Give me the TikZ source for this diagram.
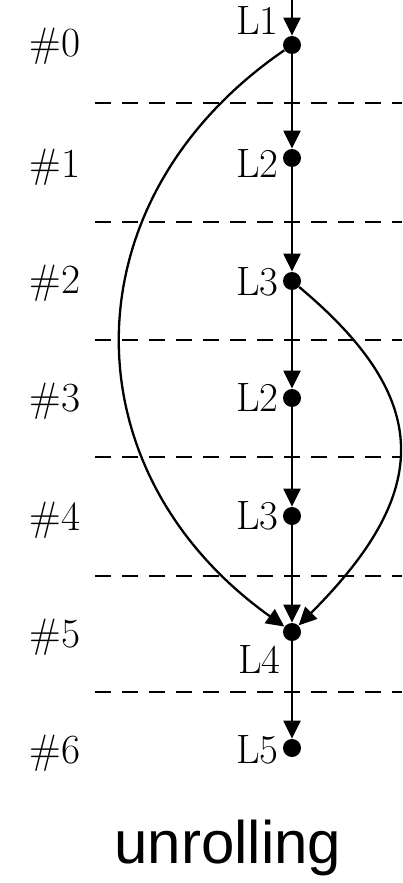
\documentclass[tikz,border=0pt]{standalone}
\usepackage{fontspec}
\newfontfamily\unrollfont{Liberation Sans}
\usetikzlibrary{arrows.meta}
\begin{document}
\begin{tikzpicture}[x=0.5pt,y=-0.5pt,
  dot/.style={circle,fill=black,inner sep=0pt,minimum size=9pt},
  lbl/.style={anchor=base east,inner sep=0pt,font=\fontsize{20.5}{24}\selectfont},
  step-lbl/.style={anchor=base west,inner sep=0pt,font=\fontsize{20.5}{24}\selectfont},
  flow/.style={line width=1.15pt,-{Triangle[length=9pt,width=8.5pt]}},
  sep/.style={line width=1.15pt,dash pattern=on 8pt off 5.5pt}]
\useasboundingbox (0,0) rectangle (402,883);
% separators
\foreach \y/\n in {103/a,222/b,340/c,457/d,576/e,692/f}{
  \coordinate (s\n l) at (95,\y);
  \coordinate (s\n r) at (402,\y);
  \draw[sep] (s\n l) -- (s\n r);
}
% step labels
\foreach \i/\y in {0/57,1/177,2/293,3/411,4/530,5/647,6/763}{
  \node[step-lbl] (h\i) at (29,\y) {$\#\i$};
}
% dots
\coordinate (top) at (292,0);
\node[dot] (d1) at (292,45) {};
\node[dot] (d2) at (292,158) {};
\node[dot] (d3) at (292,281) {};
\node[dot] (d4) at (292,398) {};
\node[dot] (d5) at (292,516) {};
\node[dot] (d6) at (292,632) {};
\node[dot] (d7) at (292,748) {};
% labels
\node[lbl] (l1) at (279,35) {L1};
\node[lbl] (l2) at (279,177) {L2};
\node[lbl] (l3) at (279,295) {L3};
\node[lbl] (l4) at (279,411) {L2};
\node[lbl] (l5) at (279,529) {L3};
\node[lbl] (l6) at (281,673) {L4};
\node[lbl] (l7) at (279,763) {L5};
% connectors
\draw[flow] (top) -- (d1);
\draw[flow] (d1) -- (d2);
\draw[flow] (d2) -- (d3);
\draw[flow] (d3) -- (d4);
\draw[flow] (d4) -- (d5);
\draw[flow] (d5) -- (d6);
\draw[flow] (d6) -- (d7);
\draw[flow] (d1) .. controls (66,200) and (66,471) .. (d6);
\draw[flow] (d3) .. controls (433,399) and (433,491) .. (d6);
% caption
\node[anchor=base,inner sep=0pt,font=\unrollfont\fontsize{30}{36}\selectfont] (cap) at (228,863) {unrolling};
\end{tikzpicture}
\end{document}
